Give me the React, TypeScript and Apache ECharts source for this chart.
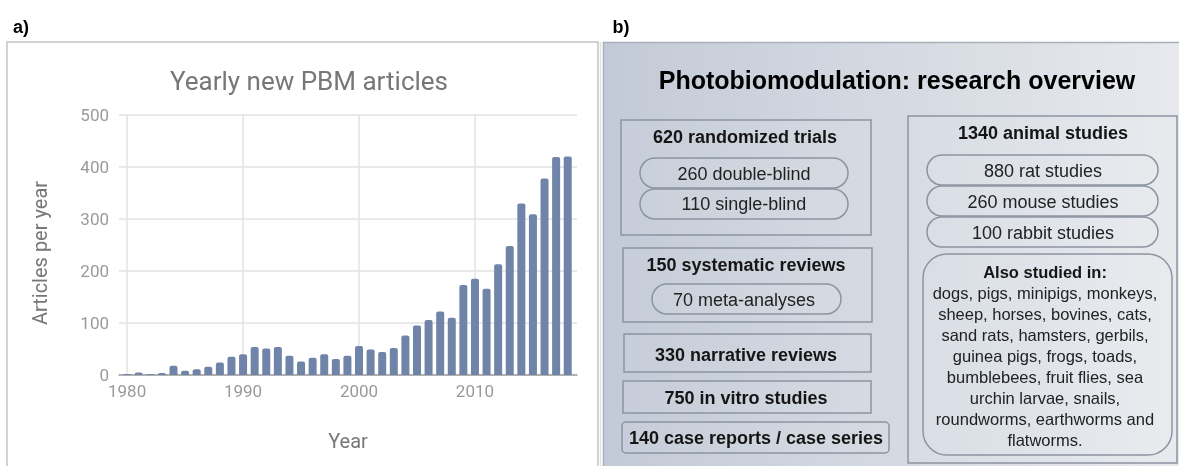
import React, { useEffect, useRef } from "react";
import * as echarts from "echarts";

const years = [
  1980, 1981, 1982, 1983, 1984, 1985, 1986, 1987, 1988, 1989,
  1990, 1991, 1992, 1993, 1994, 1995, 1996, 1997, 1998, 1999,
  2000, 2001, 2002, 2003, 2004, 2005, 2006, 2007, 2008, 2009,
  2010, 2011, 2012, 2013, 2014, 2015, 2016, 2017, 2018,
];
const articles = [
  2, 5, 2, 4, 18, 8, 11, 16, 24, 35,
  40, 54, 51, 54, 37, 26, 33, 40, 31, 37,
  56, 49, 44, 52, 76, 95, 106, 122, 110, 173,
  185, 166, 213, 248, 330, 309, 378, 419, 420,
];
const xTickYears = [1980, 1990, 2000, 2010];
const chartTitle = "Yearly new PBM articles";
const yAxisName = "Articles per year";
const xAxisName = "Year";

const overviewTitle = "Photobiomodulation: research overview";
const rctTitle = "620 randomized trials";
const rctItems = ["260 double-blind", "110 single-blind"];
const srTitle = "150 systematic reviews";
const srItems = ["70 meta-analyses"];
const narrative = "330 narrative reviews";
const inVitro = "750 in vitro studies";
const caseReports = "140 case reports / case series";
const animalTitle = "1340 animal studies";
const animalItems = ["880 rat studies", "260 mouse studies", "100 rabbit studies"];
const alsoTitle = "Also studied in:";
const alsoLines = [
  "dogs, pigs, minipigs, monkeys,",
  "sheep, horses, bovines, cats,",
  "sand rats, hamsters, gerbils,",
  "guinea pigs, frogs, toads,",
  "bumblebees, fruit flies, sea",
  "urchin larvae, snails,",
  "roundworms, earthworms and",
  "flatworms.",
];

const SANS = '"Liberation Sans", Arial, sans-serif';
const BOX_STROKE = "#8d94a1";

function txt(text: string, x: number, y: number, bold: boolean, size: number, fill = "#151515") {
  return {
    type: "text",
    z: 10,
    style: {
      text,
      x,
      y,
      fill,
      font: `${bold ? "bold " : ""}${size}px ${SANS}`,
      textAlign: "center",
      textVerticalAlign: "middle",
      align: "center",
      verticalAlign: "middle",
    },
  };
}

function box(x: number, y: number, w: number, h: number, r: number) {
  return {
    type: "rect",
    z: 9,
    shape: { x, y, width: w, height: h, r },
    style: { fill: "rgba(255,255,255,0.05)", stroke: BOX_STROKE, lineWidth: 1.5 },
  };
}

export default function App() {
  const ref = useRef<HTMLDivElement>(null);

  useEffect(() => {
    if (!ref.current) return;
    const chart = echarts.init(ref.current, null, { renderer: "svg" });

    const graphics: any[] = [];
    graphics.push(txt("a)", 21, 27, true, 18, "#000"));
    graphics.push(txt("b)", 621, 27, true, 18, "#000"));
    graphics.push({
      type: "rect",
      z: 0,
      shape: { x: 7, y: 42, width: 591, height: 440 },
      style: { fill: "none", stroke: "#c4c4c4", lineWidth: 1.5 },
    });
    graphics.push({
      type: "line",
      z: 0,
      shape: { x1: 600.5, y1: 42, x2: 600.5, y2: 466 },
      style: { stroke: "#e2e2e2", lineWidth: 1.5 },
    });
    // y axis name (rotated)
    graphics.push({
      type: "text",
      z: 10,
      x: 40,
      y: 253,
      rotation: Math.PI / 2,
      style: {
        text: yAxisName,
        fill: "#777",
        font: "20px Roboto",
        textAlign: "center",
        textVerticalAlign: "middle",
        align: "center",
        verticalAlign: "middle",
      },
    });
    graphics.push({
      type: "rect",
      z: 1,
      shape: { x: 603.5, y: 42.5, width: 590, height: 440 },
      style: {
        fill: new echarts.graphic.LinearGradient(0, 0, 1, 0, [
          { offset: 0, color: "#c3cad7" },
          { offset: 0.5, color: "#d5dae2" },
          { offset: 1, color: "#e8eaee" },
        ]),
        stroke: "#aab0ba",
        lineWidth: 1.5,
      },
    });
    graphics.push(txt(overviewTitle, 897, 80, true, 25, "#000"));

    graphics.push(box(621, 120, 250, 115, 0));
    graphics.push(txt(rctTitle, 745, 137, true, 18));
    graphics.push(box(640, 158, 208, 30, 15));
    graphics.push(box(640, 189, 208, 30, 15));
    graphics.push(txt(rctItems[0], 744, 174, false, 18, "#222"));
    graphics.push(txt(rctItems[1], 744, 204, false, 18, "#222"));

    graphics.push(box(623, 248, 249, 74, 0));
    graphics.push(txt(srTitle, 746, 265, true, 18));
    graphics.push(box(652, 284, 189, 30, 15));
    graphics.push(txt(srItems[0], 744, 300, false, 18, "#222"));

    graphics.push(box(624, 334, 247, 38, 0));
    graphics.push(txt(narrative, 746, 355, true, 18));

    graphics.push(box(623, 381, 248, 32, 0));
    graphics.push(txt(inVitro, 746, 398, true, 18));

    graphics.push(box(622, 422, 267, 31, 4));
    graphics.push(txt(caseReports, 756, 438, true, 18));

    graphics.push(box(908, 116, 269, 347, 0));
    graphics.push(txt(animalTitle, 1043, 133, true, 18));
    const pillTops = [155, 186, 217];
    animalItems.forEach((t, i) => {
      graphics.push(box(927, pillTops[i], 231, 30, 15));
      graphics.push(txt(t, 1043, pillTops[i] + 16, false, 18, "#222"));
    });
    graphics.push(box(923, 254, 249, 201, 24));
    graphics.push(txt(alsoTitle, 1045, 272, true, 16.5));
    alsoLines.forEach((l, i) => {
      graphics.push(txt(l, 1045, 293 + i * 21, false, 16.5, "#222"));
    });

    chart.setOption({
      animation: false,
      title: {
        text: chartTitle,
        left: 304,
        top: 63,
        textAlign: "center",
        textStyle: {
          fontFamily: "Roboto",
          fontWeight: "normal",
          fontSize: 26,
          color: "#777",
        },
      },
      grid: { left: 119, right: 602, top: 115, bottom: 91 },
      xAxis: {
        type: "value",
        min: 1979.3,
        max: 2018.8,
        name: xAxisName,
        nameLocation: "middle",
        nameGap: 56,
        nameTextStyle: { fontFamily: "Roboto", fontSize: 20, color: "#777" },
        axisLine: { show: true, lineStyle: { color: "#9e9e9e", width: 1.5 } },
        axisTick: { show: false },
        splitLine: { show: false },
        axisLabel: {
          customValues: xTickYears,
          formatter: (v: number) => (xTickYears.indexOf(v) >= 0 ? String(v) : ""),
          fontFamily: "Roboto",
          fontSize: 17,
          color: "#9a9a9a",
          margin: 7,
        },
      },
      yAxis: {
        type: "value",
        min: 0,
        max: 500,
        interval: 100,
        axisLine: { show: false },
        axisTick: { show: false },
        splitLine: { lineStyle: { color: "#e3e3e3", width: 1.5 } },
        axisLabel: { fontFamily: "Roboto", fontSize: 17, color: "#9a9a9a", margin: 10 },
      },
      series: [
        {
          type: "bar",
          z: 2,
          barWidth: 8,
          data: years.map((y, i) => [y, articles[i]]),
          itemStyle: { color: "#6f84a8", borderRadius: [2, 2, 0, 0] },
          markLine: {
            z: 1,
            silent: true,
            symbol: ["none", "none"],
            label: { show: false },
            lineStyle: { color: "#e3e3e3", type: "solid", width: 1.5 },
            data: xTickYears.map((v) => ({ xAxis: v })),
          },
        },
      ],
      graphic: { elements: graphics },
    });

    return () => chart.dispose();
  }, []);

  return (
    <div
      ref={ref}
      style={{ position: "fixed", left: 0, top: 0, width: 1179, height: 466 }}
    />
  );
}
